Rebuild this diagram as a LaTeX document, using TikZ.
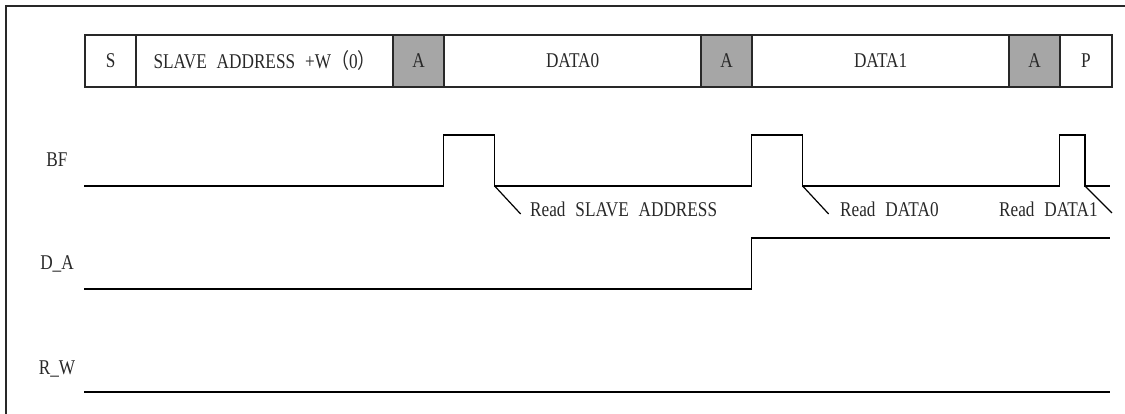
\documentclass[tikz,border=0pt]{standalone}
\usepackage{fontspec}
\usetikzlibrary{calc}
\newfontfamily\tfont[FakeStretch=0.82,WordSpace=2.3]{Liberation Serif}
\newfontfamily\cjkfont[FakeStretch=0.86]{Noto Sans CJK SC}
\definecolor{ackgray}{RGB}{166,166,166}
\definecolor{ink}{RGB}{40,40,40}
\tikzset{
  txt/.style={text=ink, font=\tfont\fontsize{21}{21}\selectfont},
  cell/.style={txt, draw=ink, line width=2pt, anchor=north west, minimum height=52pt,
    inner sep=0pt},
  ackcell/.style={cell, fill=ackgray},
  sig/.style={draw=black, line width=1.3pt},
  lbl/.style={txt, anchor=base, inner sep=0pt},
  rdlbl/.style={txt, anchor=base west, inner sep=0pt},
  lead/.style={draw=black, line width=1.2pt},
  frameline/.style={draw=ink, line width=1.5pt}
}
\begin{document}
\begin{tikzpicture}[x=1pt,y=-1pt]
\useasboundingbox (0,0) rectangle (1125,414);
\def\u{51.33}
% outer frame (left and top)
\coordinate (fbl) at (6,414);
\coordinate (ftl) at (6,6);
\coordinate (ftr) at (1125,6);
\draw[frameline] (fbl) -- (ftl) -- (ftr);
% frame row
\node[cell, minimum width=1*\u pt] (cS) at (84,34) {S};
\node[cell, minimum width=5*\u pt] (cAddr) at (84+1*\u,34) {SLAVE ADDRESS +W{\cjkfont （}0{\cjkfont ）}};
\node[ackcell, minimum width=1*\u pt] (cA1) at (84+6*\u,34) {A};
\node[cell, minimum width=5*\u pt] (cD0) at (84+7*\u,34) {DATA0};
\node[ackcell, minimum width=1*\u pt] (cA2) at (84+12*\u,34) {A};
\node[cell, minimum width=5*\u pt] (cD1) at (84+13*\u,34) {DATA1};
\node[ackcell, minimum width=1*\u pt] (cA3) at (84+18*\u,34) {A};
\node[cell, minimum width=1*\u pt] (cP) at (84+19*\u,34) {P};
% signal labels
\node[lbl] (lBF) at (57,167) {BF};
\node[lbl] (lDA) at (57,270) {D\_A};
\node[lbl] (lRW) at (57,374) {R\_W};
% BF waveform
\coordinate (bf0) at (84,186);
\coordinate (bfr1) at (84+7*\u,186);
\coordinate (bff1) at (84+8*\u,186);
\coordinate (bfr2) at (84+13*\u,186);
\coordinate (bff2) at (84+14*\u,186);
\coordinate (bfr3) at (84+19*\u,186);
\coordinate (bff3) at (84+19.5*\u,186);
\coordinate (bfend) at (1110,186);
\draw[sig] (bf0) -- (bfr1) -- ++(0,-51) -| (bff1) -- (bfr2) -- ++(0,-51) -| (bff2) -- (bfr3) -- ++(0,-51) -| (bff3) -- (bfend);
% read markers
\coordinate (m1) at ($(bff1)+(26,28)$);
\coordinate (m2) at ($(bff2)+(26,28)$);
\coordinate (m3) at ($(bff3)+(27,27)$);
\draw[lead] (bff1) -- (m1);
\draw[lead] (bff2) -- (m2);
\draw[lead] (bff3) -- (m3);
\node[rdlbl] (rSA) at (530,217) {Read SLAVE ADDRESS};
\node[rdlbl] (rD0) at (840,217) {Read DATA0};
\node[rdlbl] (rD1) at (999,217) {Read DATA1};
% D_A waveform
\coordinate (da0) at (84,289);
\coordinate (dar) at (84+13*\u,289);
\coordinate (daend) at (1110,238);
\draw[sig] (da0) -- (dar) |- (daend);
% R_W waveform
\coordinate (rw0) at (84,392);
\coordinate (rwend) at (1110,392);
\draw[sig] (rw0) -- (rwend);
\end{tikzpicture}
\end{document}
